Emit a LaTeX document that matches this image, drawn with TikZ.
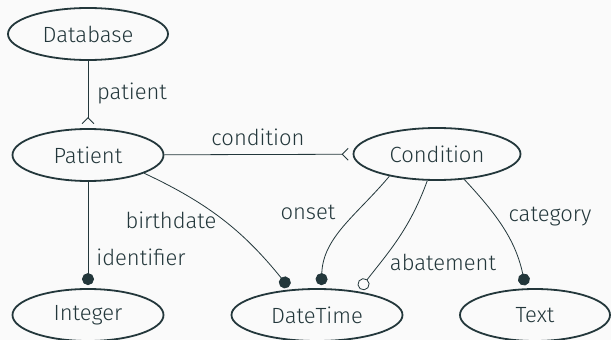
\documentclass[tikz,border=0pt]{standalone}
\usepackage{fontspec}
\setmainfont{Fira Sans Light}
\usetikzlibrary{arrows.meta,shapes.geometric}
\definecolor{fg}{HTML}{23373B}
\definecolor{bg}{HTML}{FAFAFA}
\tikzset{
  ent/.style={draw=fg, line width=1.8pt, ellipse, inner sep=0pt, minimum height=52pt, text=fg, font=\fontsize{22}{25}\selectfont},
  rel/.style={draw=fg, line width=0.8pt},
  lbl/.style={text=fg, inner sep=0pt, font=\fontsize{22}{25}\selectfont},
  one/.style={-{Circle[length=12pt]}, shorten >=3pt},
  opt/.style={-{Circle[open, length=12pt, fill=bg]}, shorten >=3pt},
  many/.style={-{Straight Barb[reversed, length=6pt, width=12pt]}, shorten >=4pt},
}
\begin{document}
\begin{tikzpicture}[x=1pt, y=-1pt]
\fill[bg] (0,0) rectangle (611,340);
\useasboundingbox (0,0) rectangle (611,340);
\node[ent, minimum width=160pt] (db) at (88,34) {Database};
\node[ent, minimum width=151pt] (pat) at (88,155) {Patient};
\node[ent, minimum width=167pt] (cond) at (437,154) {Condition};
\node[ent, minimum width=151pt] (int) at (88,315) {Integer};
\node[ent, minimum width=171pt] (dt) at (317,315) {DateTime};
\node[ent, minimum width=150pt] (txt) at (535,315) {Text};

\draw[rel, many] (db) -- (pat);
\draw[rel, many] (pat) -- (cond);
\draw[rel, one] (pat) -- (int);
\draw[rel, one] (pat.-18) to[out=-25, in=129] (dt.136);
\draw[rel, one] (cond.205) to[out=230, in=88] (dt.81);
\draw[rel, opt] (cond.250) to[out=250, in=52] (dt.30);
\draw[rel, one] (cond.-43) to[out=-47, in=102] (txt.109);

\node[lbl] (lpatient) at (132,93) {patient};
\node[lbl] (lcondition) at (258,137) {condition};
\node[lbl] (lbirth) at (171,220) {birthdate};
\node[lbl] (lid) at (141,257) {identifier};
\node[lbl] (lonset) at (308,212) {onset};
\node[lbl] (labate) at (443,262) {abatement};
\node[lbl] (lcat) at (550,217) {category};
\end{tikzpicture}
\end{document}
